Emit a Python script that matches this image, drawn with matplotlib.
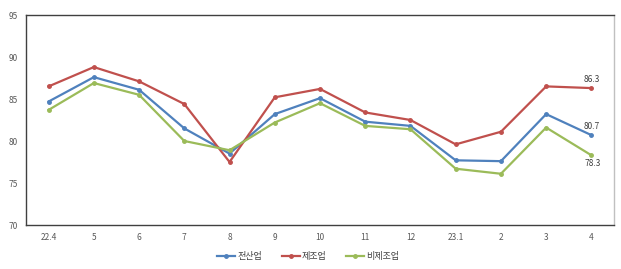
import matplotlib
matplotlib.use('Agg')
import matplotlib.pyplot as plt

plt.rcParams['font.family'] = ['Noto Sans CJK KR', 'DejaVu Sans']

# 월별 지수
months = ['22.4', '5', '6', '7', '8', '9', '10', '11', '12', '23.1', '2', '3', '4']
all_ind = [84.7, 87.6, 86.1, 81.5, 78.5, 83.2, 85.1, 82.3, 81.8, 77.7, 77.6, 83.2, 80.7]
manuf = [86.5, 88.8, 87.1, 84.4, 77.5, 85.2, 86.2, 83.4, 82.5, 79.6, 81.1, 86.5, 86.3]
non_manuf = [83.7, 86.9, 85.5, 80.0, 78.9, 82.2, 84.5, 81.8, 81.4, 76.7, 76.1, 81.6, 78.3]

names = ['전산업', '제조업', '비제조업']
colors = ['#4F81BD', '#C0504D', '#9BBB59']

fig = plt.figure(figsize=(6.21, 2.69), dpi=100)
ax = fig.add_axes([26 / 621, 44 / 269, 588 / 621, 210 / 269])

x = list(range(len(months)))
for vals, name, c in zip([all_ind, manuf, non_manuf], names, colors):
    ax.plot(x, vals, color=c, lw=1.6, marker='o', ms=2.5, label=name)

# 마지막 값 표시
ax.annotate(f'{manuf[-1]}', (x[-1], manuf[-1]), xytext=(0, 3), textcoords='offset points',
            ha='center', va='bottom', fontsize=6, color='#404040')
ax.annotate(f'{all_ind[-1]}', (x[-1], all_ind[-1]), xytext=(0, 3), textcoords='offset points',
            ha='center', va='bottom', fontsize=6, color='#404040')
ax.annotate(f'{non_manuf[-1]}', (x[-1], non_manuf[-1]), xytext=(1, -3), textcoords='offset points',
            ha='center', va='top', fontsize=6, color='#404040')

ax.set_xlim(-0.5, len(months) - 0.5)
ax.set_ylim(70, 95)
ax.set_yticks([70, 75, 80, 85, 90, 95])
ax.set_xticks(x)
ax.set_xticklabels(months)
ax.tick_params(length=0, labelsize=6, colors='#595959', pad=6)
for s in ax.spines.values():
    s.set_color('#404040')
    s.set_linewidth(1)
ax.spines['right'].set_color('#c0c0c0')

ax.legend(loc='upper center', bbox_to_anchor=(0.48, -0.09), ncol=3, frameon=False,
          fontsize=6.5, handlelength=2, handletextpad=0.2, columnspacing=2.2,
          labelcolor='#404040')

fig.savefig('out.png', dpi=100)
